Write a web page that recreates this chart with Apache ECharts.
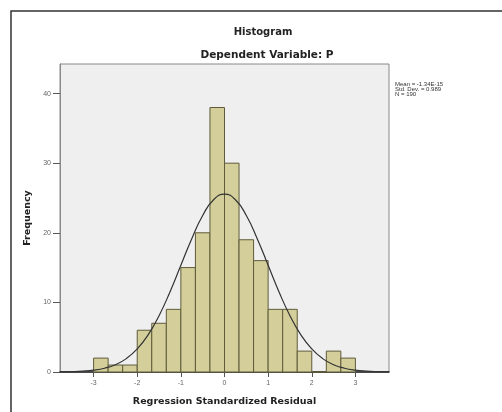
<!DOCTYPE html>
<html>
<head>
<meta charset="utf-8">
<script src="https://cdn.jsdelivr.net/npm/echarts@6/dist/echarts.min.js"></script>
<style>html,body{margin:0;padding:0;background:#fff;}#c{width:502px;height:412px;}</style>
</head>
<body>
<div id="c"></div>
<script>
// Histogram bins (width 1/3) and frequencies
const binStarts = [-3, -8/3, -7/3, -2, -5/3, -4/3, -1, -2/3, -1/3, 0, 1/3, 2/3, 1, 4/3, 5/3, 2, 7/3, 8/3];
const binWidth = 1/3;
const frequencies = [2, 1, 1, 6, 7, 9, 15, 20, 38, 30, 19, 16, 9, 9, 3, 0, 3, 2];
// Fitted normal curve
const curveX = [-3.77, -3.5, -3.25, -3, -2.75, -2.5, -2.25, -2, -1.75, -1.5, -1.25, -1, -0.75, -0.5, -0.25, 0, 0.25, 0.5, 0.75, 1, 1.25, 1.5, 1.75, 2, 2.25, 2.5, 2.75, 3, 3.25, 3.5, 3.77];
const curveY = [0.02, 0.05, 0.12, 0.26, 0.54, 1.05, 1.92, 3.31, 5.34, 8.09, 11.5, 15.33, 19.16, 22.48, 24.75, 25.55, 24.75, 22.48, 19.16, 15.33, 11.5, 8.09, 5.34, 3.31, 1.92, 1.05, 0.54, 0.26, 0.12, 0.05, 0.02];
const xTicks = [-3, -2, -1, 0, 1, 2, 3];
const yTicks = [0, 10, 20, 30, 40];
const statsText = ['Mean = -1.34E-15', 'Std. Dev. = 0.989', 'N = 190'];

const chart = echarts.init(document.getElementById('c'), null, {renderer: 'canvas'});
const font = 'DejaVu Sans, Verdana, sans-serif';
const font2 = 'Liberation Sans, Arial, sans-serif';

const histData = binStarts.map((s, i) => [s, s + binWidth, frequencies[i]]);
const lineData = curveX.map((x, i) => [x, curveY[i]]);

chart.setOption({
  animation: false,
  backgroundColor: '#ffffff',
  title: [
    {text: 'Histogram', left: 258, top: 22, textAlign: 'center',
     textStyle: {fontSize: 10, fontWeight: 'bold', color: '#222', fontFamily: font}},
    {text: 'Dependent Variable: P', left: 262, top: 45, textAlign: 'center',
     textStyle: {fontSize: 10.5, fontWeight: 'bold', color: '#222', fontFamily: font}}
  ],
  graphic: [
    {type: 'rect', shape: {x: 11, y: 11, width: 520, height: 430},
     style: {fill: null, stroke: '#333', lineWidth: 1.5}, silent: true, z: -1},
    {type: 'text', left: 395, top: 81,
     style: {text: statsText.join('\n'), fontSize: 6, lineHeight: 5, fill: '#333', fontFamily: font2}}
  ],
  grid: {left: 60, right: 113, top: 64, bottom: 40, show: true,
         backgroundColor: '#efefef', borderColor: '#8a8a8a', borderWidth: 1},
  xAxis: {
    type: 'value', min: -3.77, max: 3.77,
    name: 'Regression Standardized Residual', nameLocation: 'middle', nameGap: 25,
    nameTextStyle: {fontSize: 9.5, fontWeight: 'bold', color: '#222', fontFamily: font},
    axisLine: {show: true, onZero: false, lineStyle: {color: '#222', width: 1.5}},
    axisTick: {show: true, customValues: xTicks, length: 5, lineStyle: {color: '#555'}},
    axisLabel: {customValues: xTicks, fontSize: 7, color: '#666', margin: 8, fontFamily: font2},
    splitLine: {show: false}
  },
  yAxis: {
    type: 'value', min: 0, max: 44.25,
    name: 'Frequency', nameLocation: 'middle', nameGap: 22, nameRotate: 90,
    nameTextStyle: {fontSize: 9.5, fontWeight: 'bold', color: '#222', fontFamily: font},
    axisLine: {show: true, onZero: false, lineStyle: {color: '#8a8a8a', width: 1}},
    axisTick: {show: true, customValues: yTicks, length: 7, lineStyle: {color: '#555'}},
    axisLabel: {customValues: yTicks, fontSize: 7, color: '#666', margin: 9, fontFamily: font2},
    splitLine: {show: false}
  },
  series: [
    {
      type: 'custom',
      data: histData,
      renderItem: function (params, api) {
        const p0 = api.coord([api.value(0), api.value(2)]);
        const p1 = api.coord([api.value(1), 0]);
        return {
          type: 'rect',
          shape: {x: p0[0], y: p0[1], width: p1[0] - p0[0], height: p1[1] - p0[1]},
          style: {fill: '#d4cf9a', stroke: '#5f5b3a', lineWidth: 1}
        };
      },
      encode: {x: [0, 1], y: 2},
      z: 2
    },
    {
      type: 'line', data: lineData, smooth: true, showSymbol: false,
      lineStyle: {color: '#333333', width: 1.2}, z: 3
    }
  ]
});
</script>
</body>
</html>
